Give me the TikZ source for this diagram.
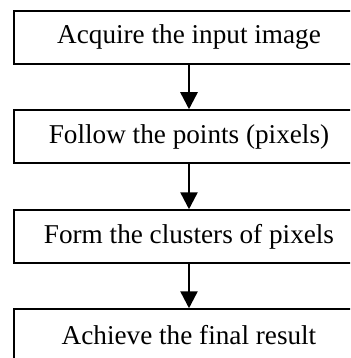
\documentclass[tikz,border=0pt]{standalone}
\usepackage{fontspec}
\setmainfont{Liberation Serif}
\usetikzlibrary{arrows.meta,positioning}
\begin{document}
\begin{tikzpicture}[inner sep=0pt,x=1pt,y=1pt]
  \useasboundingbox(0,0)rectangle(350,-358);
  \clip(0,0)rectangle(350,-358);
  \tikzstyle{s}=[rectangle,draw,line width=1.5pt,minimum width=350pt,minimum height=53pt,font=\fontsize{27.2}{30}\selectfont]
  \node[s](acq)at(189,-37.5){Acquire the input image};
  \node[s](fol)at(189,-136.5){Follow the points (pixels)};
  \node[s](frm)at(189,-236.5){Form the clusters of pixels};
  \node[s](ach)at(189,-335.5){Achieve the final result};
  \tikzstyle{e}=[-{Triangle[length=17pt,width=17pt]},draw=black,line width=2.5pt]
  \foreach\o/\d in{acq/fol,fol/frm,frm/ach}{\draw[e](\o.south)--(\d.north);}
\end{tikzpicture}
\end{document}
